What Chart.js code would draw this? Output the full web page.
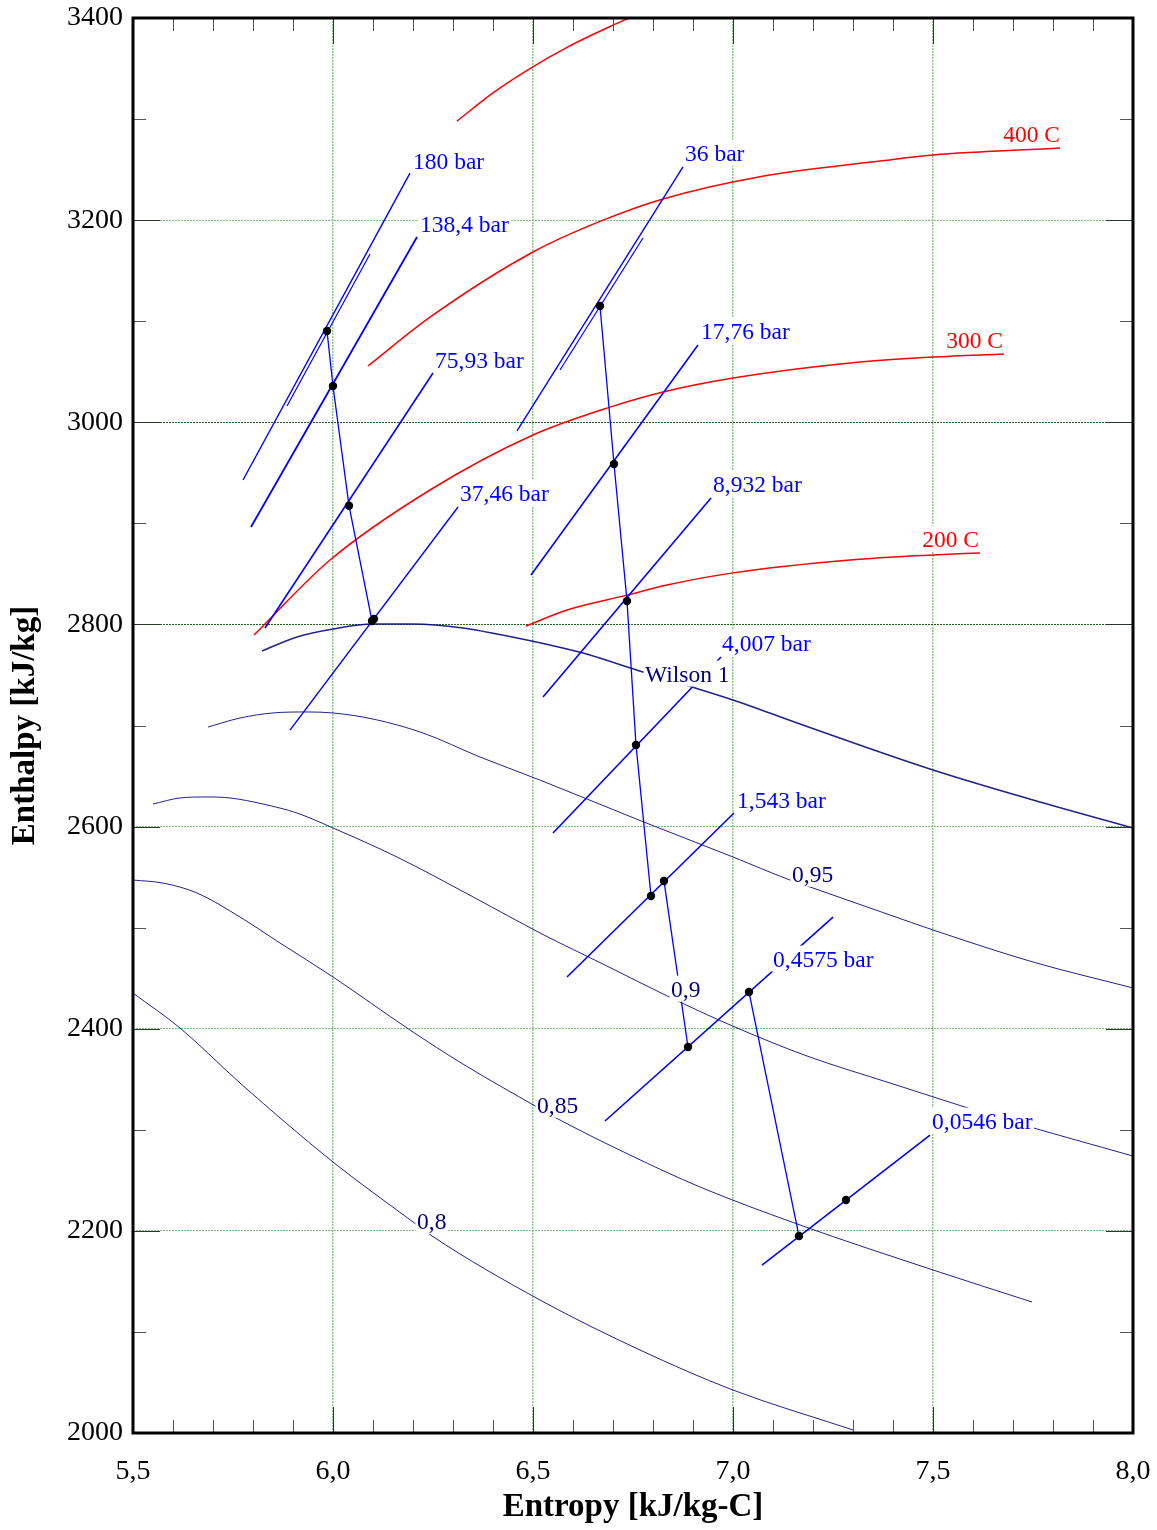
<!DOCTYPE html>
<html>
<head>
<meta charset="utf-8">
<script src="https://cdn.jsdelivr.net/npm/chart.js@4.4.1/dist/chart.umd.min.js"></script>
<style>
  html, body { margin: 0; padding: 0; background: #fff; }
  canvas { display: block; }
</style>
</head>
<body>
<canvas id="chart" width="1157" height="1530"></canvas>
<script>
"use strict";

// axis ranges and tick steps
var entropyRange = [5.5, 8.0];
var enthalpyRange = [2000, 3400];
var entropyStep = 0.5, entropyMinorStep = 0.1;
var enthalpyStep = 200, enthalpyMinorStep = 100;

// isotherms (red)
var t500S = [6.31, 6.40, 6.4925, 6.585, 6.70, 6.74];
var t500H = [3298, 3326, 3350, 3371, 3393, 3400];
var t400S = [6.0875, 6.2425, 6.50, 6.675, 6.825, 7.0675, 7.3675, 7.50, 7.8175];
var t400H = [3055.7, 3104, 3168.5, 3200, 3221, 3243, 3258.5, 3264.5, 3271.4];
var t300S = [5.8025, 5.9925, 6.2425, 6.50, 6.6925, 6.825, 7.0, 7.2925, 7.5, 7.6775];
var t300H = [2789.5, 2863.7, 2933, 2987.4, 3015, 3030, 3043.8, 3058.7, 3064.6, 3067.6];
var t200S = [6.4825, 6.585, 6.735, 6.835, 7.0, 7.2925, 7.5, 7.6175];
var t200H = [2798.4, 2814.3, 2829, 2839, 2851, 2863.7, 2868.7, 2870.7];

// quality lines (navy)
var x100S = [5.8225, 5.91, 6.0, 6.10, 6.20, 6.325, 6.41, 6.5425, 6.625, 6.775, 6.8975, 7.0, 7.1675, 7.50, 7.75, 8.0];
var x100H = [2773.7, 2787.6, 2795.5, 2800.4, 2800.4, 2796.5, 2790.5, 2779.6, 2771.7, 2752.9, 2738.1, 2725.3, 2701.5, 2656, 2626.3, 2598.6];
var x95S = [5.6875, 5.7675, 5.85, 5.935, 6.0, 6.10, 6.225, 6.3675, 6.5175, 6.7675, 7.0, 7.1425, 7.20, 7.3925, 7.50, 7.75, 8.0];
var x95H = [2698.5, 2707.4, 2712.4, 2713.4, 2712.4, 2706.4, 2692.6, 2668.8, 2646, 2606, 2569.9, 2547.1, 2539.2, 2512.5, 2497.7, 2466, 2440.3];
var x90S = [5.55, 5.6175, 5.685, 5.7425, 5.825, 5.91, 6.0, 6.16, 6.36, 6.5175, 6.685, 6.8375, 7.0, 7.185, 7.3925, 7.6925, 8.0];
var x90H = [2622.3, 2628.3, 2629.3, 2628.3, 2622.3, 2613.4, 2598.6, 2569.9, 2528.3, 2494.7, 2462, 2432, 2402.5, 2373, 2346.3, 2308.7, 2274];
var x85S = [5.5, 5.575, 5.66, 5.7675, 5.8675, 6.0, 6.1925, 6.325, 6.51, 6.5625, 6.7425, 6.9175, 7.1675, 7.50, 7.7475];
var x85H = [2547.1, 2544.1, 2534.3, 2510.5, 2484.8, 2451.2, 2398.7, 2365, 2322.5, 2310.7, 2275, 2243.4, 2205.8, 2161.3, 2129.6];
var x80S = [5.5, 5.6175, 5.7675, 6.0, 6.20, 6.2475, 6.5175, 6.7675, 7.0, 7.30];
var x80H = [2435.3, 2400.7, 2346.3, 2268.1, 2208.8, 2194.9, 2131.6, 2082.1, 2042.5, 2003];

// isobars (blue)
var p180S = [5.775, 6.1925], p180H = [2942.9, 3246.6];
var p180bS = [5.885, 6.0925], p180bH = [3016.1, 3166.5];
var p138S = [5.795, 6.21], p138H = [2896.4, 3183.3];
var p76S = [5.83, 6.25], p76H = [2796.5, 3048.8];
var p37S = [5.8925, 6.3125], p37H = [2695.5, 2916.2];
var p36S = [6.46, 6.875], p36H = [2991.4, 3252.6];
var p36bS = [6.5675, 6.775], p36bH = [3051.7, 3182.3];
var p18S = [6.495, 6.9125], p18H = [2848.9, 3076.5];
var p9S = [6.525, 6.945], p9H = [2728.2, 2925.1];
var p4S = [6.55, 6.97], p4H = [2593.6, 2767.8];
var p15S = [6.585, 7.0025], p15H = [2451.2, 2613.4];
var p05S = [6.68, 7.25], p05H = [2308.7, 2510.5];
var p005S = [7.0725, 7.4925], p005H = [2166.2, 2294.8];

// expansion line states
var hpS = [5.985, 6.0, 6.04, 6.0975], hpH = [3090.3, 3035.9, 2917.5, 2803.4];
var ipS = [6.6675, 6.7025, 6.735, 6.7575, 6.795], ipH = [3115.1, 2958.7, 2823.2, 2680.7, 2531.3];
var lp1S = [6.8275, 6.8875], lp1H = [2546.1, 2381.9];
var lp2S = [7.04, 7.165], lp2H = [2436.3, 2194.9];
var extraDotS = [6.1025, 7.2825], extraDotH = [2805.4, 2230.5];

// labels
var barLabels = ['180 bar', '138,4 bar', '75,93 bar', '37,46 bar', '36 bar', '17,76 bar', '8,932 bar', '4,007 bar', '1,543 bar', '0,4575 bar', '0,0546 bar'];
var barLabelS = [6.2, 6.2175, 6.255, 6.3175, 6.88, 6.92, 6.95, 6.9725, 7.01, 7.10, 7.4975];
var barLabelH = [3258.5, 3196.2, 3061.6, 2930, 3266.4, 3090.3, 2938.9, 2781.6, 2626.3, 2469, 2308.7];
var tempLabels = ['400 C', '300 C', '200 C'];
var tempLabelS = [7.8175, 7.675, 7.615];
var tempLabelH = [3285.2, 3081.4, 2884.5];
var qualityLabels = ['Wilson 1', '0,95', '0,9', '0,85', '0,8'];
var qualityLabelS = [6.78, 7.1475, 6.845, 6.51, 6.21];
var qualityLabelH = [2751, 2553.1, 2439.3, 2324.5, 2209.7];

var serif = "'Liberation Serif', 'Times New Roman', serif";
var RED = '#ff0000', BLUE = '#0000ff', NAVY = 'rgba(10,10,128,0.9)';

function pts(s, h) {
	return s.map(function (v, i) { return { x: v, y: h[i] }; });
}

function curve(s, h, color, width) {
	return {
		data: pts(s, h), showLine: true, borderColor: color, borderWidth: width,
		pointRadius: 0, fill: false, cubicInterpolationMode: 'monotone'
	};
}

function segment(s, h, color, width) {
	return {
		data: pts(s, h), showLine: true, borderColor: color, borderWidth: width,
		pointRadius: 0, fill: false, tension: 0
	};
}

var dotS = hpS.concat(ipS, lp1S, lp2S, extraDotS);
var dotH = hpH.concat(ipH, lp1H, lp2H, extraDotH);

var datasets = [
	{ data: pts(dotS, dotH), showLine: false, pointRadius: 4.2, pointBackgroundColor: '#000', pointBorderColor: '#000', pointBorderWidth: 0 },
	segment(hpS, hpH, BLUE, 1.3),
	segment(ipS, ipH, BLUE, 1.3),
	segment(lp1S, lp1H, BLUE, 1.3),
	segment(lp2S, lp2H, BLUE, 1.3),
	segment(p180S, p180H, BLUE, 1.4),
	segment(p180bS, p180bH, BLUE, 1.2),
	segment(p138S, p138H, BLUE, 1.8),
	segment(p76S, p76H, BLUE, 1.6),
	segment(p37S, p37H, BLUE, 1.4),
	segment(p36S, p36H, BLUE, 1.4),
	segment(p36bS, p36bH, BLUE, 1.2),
	segment(p18S, p18H, BLUE, 1.6),
	segment(p9S, p9H, BLUE, 1.6),
	segment(p4S, p4H, BLUE, 1.6),
	segment(p15S, p15H, BLUE, 1.6),
	segment(p05S, p05H, BLUE, 1.6),
	segment(p005S, p005H, BLUE, 1.6),
	curve(t500S, t500H, RED, 1.5),
	curve(t400S, t400H, RED, 1.5),
	curve(t300S, t300H, RED, 1.5),
	curve(t200S, t200H, RED, 1.5),
	curve(x100S, x100H, NAVY, 1.6),
	curve(x95S, x95H, NAVY, 1),
	curve(x90S, x90H, NAVY, 1),
	curve(x85S, x85H, NAVY, 1),
	curve(x80S, x80H, NAVY, 1)
];

// labels with a white box, drawn over the lines
function drawLabel(ctx, text, px, py, align, color) {
	ctx.font = '23.5px ' + serif;
	ctx.textBaseline = 'middle';
	ctx.textAlign = 'left';
	var m = ctx.measureText(text);
	var left = align === 'right' ? px - m.width : px;
	var asc = m.fontBoundingBoxAscent || 13;
	var desc = m.fontBoundingBoxDescent || 13;
	py += 1.5;
	ctx.fillStyle = '#fff';
	ctx.fillRect(left - 1.5, py - asc, m.width + 3, asc + desc);
	ctx.fillStyle = color;
	ctx.fillText(text, left, py);
}

var labelPlugin = {
	id: 'labels',
	afterDatasetsDraw: function (chart) {
		var ctx = chart.ctx, x = chart.scales.x, y = chart.scales.y;
		ctx.save();
		barLabels.forEach(function (t, i) {
			drawLabel(ctx, t, x.getPixelForValue(barLabelS[i]), y.getPixelForValue(barLabelH[i]), 'left', BLUE);
		});
		tempLabels.forEach(function (t, i) {
			drawLabel(ctx, t, x.getPixelForValue(tempLabelS[i]), y.getPixelForValue(tempLabelH[i]), 'right', RED);
		});
		qualityLabels.forEach(function (t, i) {
			drawLabel(ctx, t, x.getPixelForValue(qualityLabelS[i]), y.getPixelForValue(qualityLabelH[i]), 'left', '#000080');
		});
		ctx.restore();
	}
};

// frame with inward ticks
var framePlugin = {
	id: 'frame',
	afterDraw: function (chart) {
		var ctx = chart.ctx, a = chart.chartArea, x = chart.scales.x, y = chart.scales.y;
		ctx.save();
		ctx.lineWidth = 1;
		var n = Math.round((entropyRange[1] - entropyRange[0]) / entropyMinorStep);
		for (var i = 0; i <= n; i++) {
			var px = Math.round(x.getPixelForValue(entropyRange[0] + i * entropyMinorStep)) + 0.5;
			var major = i % 5 === 0;
			var len = major ? 26 : 13;
			ctx.strokeStyle = major ? '#2a3a2a' : '#555';
			ctx.beginPath();
			ctx.moveTo(px, a.bottom); ctx.lineTo(px, a.bottom - len);
			ctx.moveTo(px, a.top); ctx.lineTo(px, a.top + len);
			ctx.stroke();
		}
		var m = Math.round((enthalpyRange[1] - enthalpyRange[0]) / enthalpyMinorStep);
		for (var j = 0; j <= m; j++) {
			var py = Math.round(y.getPixelForValue(enthalpyRange[0] + j * enthalpyMinorStep)) + 0.5;
			var maj = j % 2 === 0;
			var l = maj ? 27 : 13;
			ctx.strokeStyle = maj ? '#2a3a2a' : '#555';
			ctx.beginPath();
			ctx.moveTo(a.left, py); ctx.lineTo(a.left + l, py);
			ctx.moveTo(a.right, py); ctx.lineTo(a.right - l, py);
			ctx.stroke();
		}
		ctx.lineWidth = 3;
		ctx.strokeStyle = '#000';
		ctx.strokeRect(a.left, a.top, a.right - a.left, a.bottom - a.top);
		ctx.restore();
	}
};

function isEdge(v, range) {
	return Math.abs(v - range[0]) < 1e-6 || Math.abs(v - range[1]) < 1e-6;
}

// fixed axis sizes; drop the label overhang padding so layout.padding decides the plot box
function fitX(s) {
	s.height = 97;
	s.paddingLeft = 0; s.paddingRight = 0;
}
function fitY(s) {
	s.width = 133;
	s.paddingTop = 0; s.paddingBottom = 0;
}

var chart = new Chart(document.getElementById('chart'), {
	type: 'scatter',
	data: { datasets: datasets },
	plugins: [labelPlugin, framePlugin],
	options: {
		responsive: false,
		devicePixelRatio: 1,
		animation: false,
		layout: { padding: { top: 18, right: 24, left: 0, bottom: 0 } },
		plugins: { legend: { display: false }, tooltip: { enabled: false } },
		scales: {
			x: {
				type: 'linear',
				min: entropyRange[0],
				max: entropyRange[1],
				afterFit: fitX,
				ticks: {
					stepSize: entropyStep,
					autoSkip: false,
					maxRotation: 0,
					padding: 22,
					color: '#000',
					font: { family: serif, size: 28 },
					callback: function (v) { return Number(v).toFixed(1).replace('.', ','); }
				},
				grid: {
					drawTicks: false,
					lineWidth: 1.5,
					color: function (c) {
						return c.tick && isEdge(c.tick.value, entropyRange) ? 'rgba(0,0,0,0)' : '#8cc98c';
					}
				},
				border: { display: false, dash: [2, 1] },
				title: {
					display: true,
					text: 'Entropy [kJ/kg-C]',
					color: '#000',
					font: { family: serif, size: 33, weight: 'bold' },
					padding: { top: 0, bottom: 3 }
				}
			},
			y: {
				type: 'linear',
				min: enthalpyRange[0],
				max: enthalpyRange[1],
				afterFit: fitY,
				ticks: {
					stepSize: enthalpyStep,
					padding: 10,
					color: '#000',
					font: { family: serif, size: 28 },
					callback: function (v) { return String(v); }
				},
				grid: {
					drawTicks: false,
					lineWidth: 1,
					color: function (c) {
						if (!c.tick || isEdge(c.tick.value, enthalpyRange)) return 'rgba(0,0,0,0)';
						return (c.tick.value === 2800 || c.tick.value === 3000) ? '#1f5f1f' : '#7cc07c';
					}
				},
				border: { display: false, dash: [2, 1] },
				title: {
					display: true,
					text: 'Enthalpy [kJ/kg]',
					color: '#000',
					font: { family: serif, size: 33, weight: 'bold' },
					padding: { top: 6, bottom: 0 }
				}
			}
		}
	}
});
</script>
</body>
</html>
